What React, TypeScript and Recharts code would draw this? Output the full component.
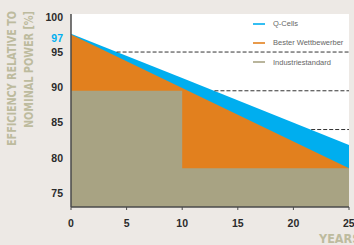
import React from 'react';
import { ComposedChart, Area, XAxis, YAxis, ReferenceLine, Legend, CartesianGrid } from 'recharts';

// ---- data ----
const years = [0, 10, 25];
const qCells = [97.6, 91.3, 81.8];
const besterWettbewerber = [97.5, 89.9, 78.5];
const industriestandard = [89.5, 78.5, 78.5];

const yTicks = [75, 80, 85, 90, 95, 97, 100];
const xTicks = [0, 5, 10, 15, 20, 25];

// dashed guide lines: level and the year where they start (at the Q-Cells line)
const dashLevels = [95, 89.5, 84];
const dashStartYears = [4.1, 12.9, 21.6];

const seriesNames = ['Q-Cells', 'Bester Wettbewerber', 'Industriestandard'];

const BLUE = '#00AEEF';
const ORANGE = '#E2801E';
const OLIVE = '#A8A383';
const LABEL_OLIVE = '#BDBB9E';
const BG = '#EDE9E5';
const AXIS = '#4a4a4a';

const seriesColors = [BLUE, ORANGE, OLIVE];

const data = years.map((y, i) => ({
  year: y,
  q: qCells[i],
  b: besterWettbewerber[i],
  s: industriestandard[i],
}));

const Y_DOMAIN: [number, number] = [73, 100.4];

const tickFont = "'Liberation Sans', Arial, sans-serif";
const narrowFont = "'Liberation Sans Narrow', 'DejaVu Sans Condensed', 'Liberation Sans', sans-serif";

const YTick = (props: any) => {
  const { x, y, payload } = props;
  const is97 = payload.value === 97;
  return (
    <text
      x={x}
      y={y}
      dy={4}
      textAnchor="end"
      fontFamily={tickFont}
      fontWeight="bold"
      fontSize={10.5}
      fill={is97 ? BLUE : '#2b2b2b'}
    >
      {payload.value}
    </text>
  );
};

const LegendContent = () => (
  <div style={{ fontFamily: tickFont, fontSize: 7.5, color: '#666', width: 110, lineHeight: 1 }}>
    {seriesNames.map((n, i) => (
      <div key={n} style={{ display: 'flex', alignItems: 'center', height: 19.2 }}>
        <svg width={12} height={2} style={{ display: 'block', flexShrink: 0, marginRight: 8 }}>
          <line x1={0} y1={1} x2={12} y2={1} stroke={seriesColors[i]} strokeWidth={1.6} />
        </svg>
        <span style={{ whiteSpace: 'nowrap' }}>{n}</span>
      </div>
    ))}
  </div>
);

const YLabel = () => (
  <g>
    <text
      transform="translate(16,11) rotate(-90)"
      textAnchor="end"
      fontFamily={narrowFont}
      fontWeight="bold"
      fontSize={12.5}
      fill={LABEL_OLIVE}
      textLength={135}
      lengthAdjust="spacingAndGlyphs"
    >
      EFFICIENCY RELATIVE TO
    </text>
    <text
      transform="translate(32.5,11) rotate(-90)"
      textAnchor="end"
      fontFamily={narrowFont}
      fontWeight="bold"
      fontSize={12.5}
      fill={LABEL_OLIVE}
      textLength={117}
      lengthAdjust="spacingAndGlyphs"
    >
      NOMINAL POWER [%]
    </text>
  </g>
);

const XLabel = () => (
  <text
    x={319}
    y={243}
    textAnchor="start"
    fontFamily={narrowFont}
    fontWeight="bold"
    fontSize={12.5}
    fill={LABEL_OLIVE}
  >
    YEARS
  </text>
);

export default function App() {
  return (
    <div style={{ position: 'absolute', left: 0, top: 0, width: 354, height: 245, background: BG }}>
      <ComposedChart
        width={354}
        height={245}
        data={data}
        margin={{ top: 14, right: 5, bottom: 8, left: 31 }}
      >
        <CartesianGrid fill="#ffffff" horizontal={false} vertical={false} />
        <XAxis
          dataKey="year"
          type="number"
          domain={[0, 25]}
          ticks={xTicks}
          height={30}
          axisLine={{ stroke: AXIS, strokeWidth: 1.5 }}
          tickLine={{ stroke: AXIS }}
          tickSize={3}
          tickMargin={10}
          tick={{ fontFamily: tickFont, fontWeight: 'bold', fontSize: 10.5, fill: '#2b2b2b' }}
          label={<XLabel />}
        />
        <XAxis
          xAxisId="top"
          orientation="top"
          type="number"
          domain={[0, 25]}
          height={0}
          tick={false}
          tickLine={false}
          axisLine={{ stroke: '#666', strokeWidth: 1 }}
        />
        <YAxis
          type="number"
          domain={Y_DOMAIN}
          ticks={yTicks}
          width={40}
          allowDataOverflow
          tickSize={0}
          tickMargin={8}
          axisLine={{ stroke: AXIS, strokeWidth: 1.5 }}
          tickLine={false}
          tick={<YTick />}
          interval={0}
          label={<YLabel />}
        />
        <YAxis
          yAxisId="right"
          orientation="right"
          type="number"
          domain={Y_DOMAIN}
          width={0}
          tick={false}
          tickLine={false}
          axisLine={{ stroke: '#666', strokeWidth: 1 }}
        />
        <Area
          type="linear"
          dataKey="q"
          name={seriesNames[0]}
          stroke="none"
          fill={BLUE}
          fillOpacity={1}
          isAnimationActive={false}
        />
        <Area
          type="linear"
          dataKey="b"
          name={seriesNames[1]}
          stroke="none"
          fill={ORANGE}
          fillOpacity={1}
          isAnimationActive={false}
        />
        <Area
          type="stepAfter"
          dataKey="s"
          name={seriesNames[2]}
          stroke="none"
          fill={OLIVE}
          fillOpacity={1}
          isAnimationActive={false}
        />
        {dashLevels.map((lvl, i) => (
          <ReferenceLine
            key={lvl}
            segment={[
              { x: dashStartYears[i], y: lvl },
              { x: 25, y: lvl },
            ]}
            stroke="#333"
            strokeWidth={1}
            strokeDasharray="4 2"
          />
        ))}
        <Legend
          layout="horizontal"
          verticalAlign="middle"
          align="center"
          wrapperStyle={{ position: 'absolute', top: 14.4, left: 253, width: 110 }}
          content={<LegendContent />}
        />
      </ComposedChart>
    </div>
  );
}
